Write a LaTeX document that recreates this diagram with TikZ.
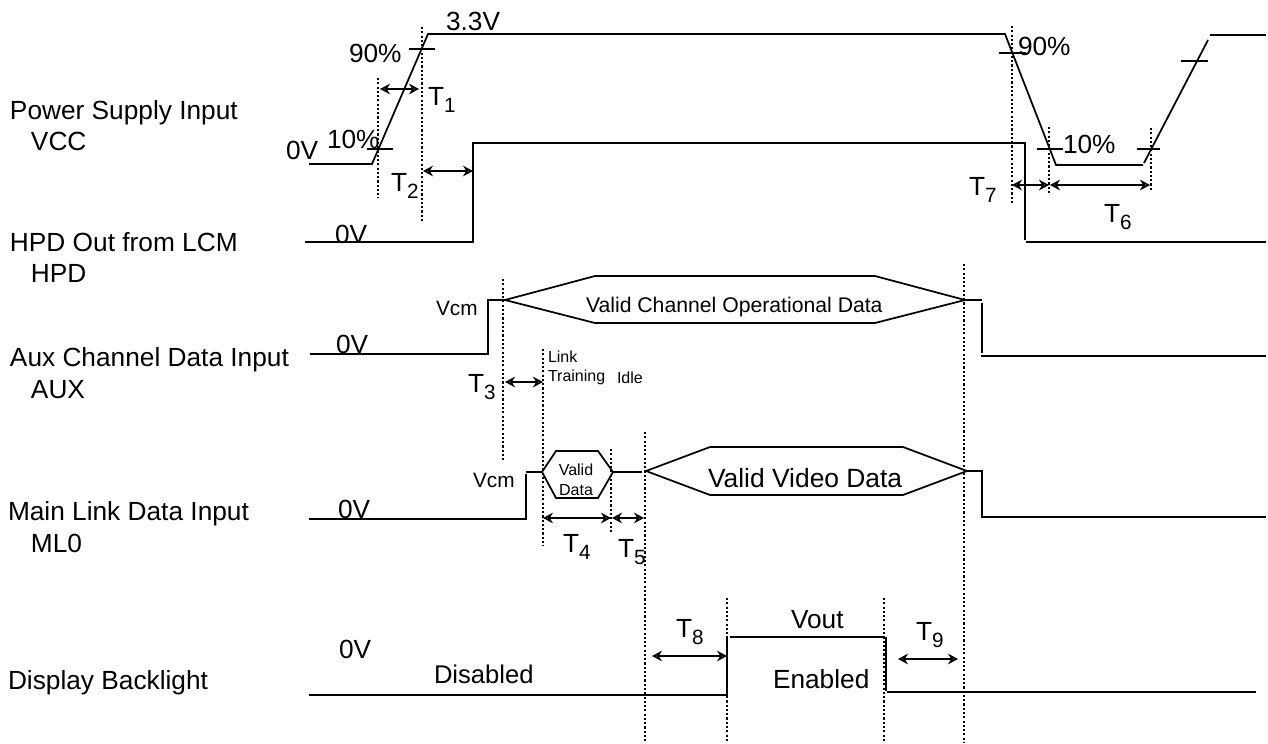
\documentclass[tikz,border=0pt]{standalone}
\usepackage{fontspec}
\setmainfont{Liberation Sans}
\usetikzlibrary{arrows.meta}
\newcommand{\fs}[1]{\fontsize{#1}{#1}\selectfont}
\newcommand{\Tsub}[1]{T\raisebox{-0.3em}{\fs{15.5}#1}}
\tikzset{
  wave/.style={line width=1.3pt,line cap=butt,line join=miter,black},
  tick/.style={line width=1pt,black},
  guide/.style={line width=0.8pt,black,dash pattern=on 1.6pt off 1.6pt},
  span/.style={line width=1.3pt,black,{Stealth[open,length=7.5pt,width=8pt]}-{Stealth[open,length=7.5pt,width=8pt]}},
  lab/.style={anchor=base west,inner sep=0pt,outer sep=0pt,font=\fs{19.7}},
  mid/.style={anchor=base west,inner sep=0pt,outer sep=0pt,font=\fs{17}},
  tiny/.style={anchor=base west,inner sep=0pt,outer sep=0pt,font=\fs{12}},
}
\begin{document}
\begin{tikzpicture}[x=0.75pt,y=-0.75pt]
\useasboundingbox (0,0) rectangle (1268,743);
% guides
\draw[guide] (378,78) -- (378,198);
\draw[guide] (422,27) -- (422,223);
\draw[guide] (1012,26) -- (1012,203);
\draw[guide] (1049,127) -- (1049,194);
\draw[guide] (1151,128) -- (1151,191);
\draw[guide] (503,279) -- (503,460);
\draw[guide] (543,349) -- (543,546);
\draw[guide] (611,449) -- (611,532);
\draw[guide] (645,432) -- (645,743);
\draw[guide] (964,264) -- (964,743);
\draw[guide] (727,598) -- (727,743);
\draw[guide] (884,598) -- (884,743);
% VCC
\draw[wave] (309,164) -- (372,164) -- (428,34) -- (1005,34) -- (1056,165) -- (1143,165);
\draw[wave] (1144,163) -- (1208,40);
\draw[wave] (1210,35) -- (1266,35);
\foreach \a/\b/\y in {409/435/49,367/393/149,999/1026/53,1037/1063/149,1137/1160/149,1181/1208/61}
  \draw[tick] (\a,\y) -- (\b,\y);
% HPD
\draw[wave] (305,242) -- (473,242) -- (473,143) -- (1025,143) -- (1025,240);
\draw[wave] (1026,242) -- (1266,242);
% AUX
\draw[wave] (310,354) -- (488,354) -- (488,300) -- (505,300) -- (595,276) -- (875,276) -- (965,300) -- (875,323) -- (595,323) -- (505,300);
\draw[wave] (965,300) -- (982,300);
\draw[wave] (982,303) -- (982,353);
\draw[wave] (981,356) -- (1266,356);
% ML0
\draw[wave] (309,519) -- (526,519) -- (526,474);
\draw[wave] (526,472) -- (542,472);
\draw[wave] (542,472) -- (556,451) -- (598,451) -- (613,472) -- (598,498) -- (556,498) -- cycle;
\draw[wave] (613,472) -- (642,472);
\draw[wave] (646,471) -- (710,447) -- (903,447) -- (967,471) -- (903,495) -- (710,495) -- cycle;
\draw[wave] (967,471) -- (982,471) -- (982,517) -- (1266,517);
% Backlight
\draw[wave] (309,695) -- (727,695) -- (727,637);
\draw[wave] (730,637) -- (885,637);
\draw[wave] (886,637) -- (886,691);
\draw[wave] (887,692) -- (1256,692);
% spans
\draw[span] (380,89) -- (419,89);
\draw[span] (423,171) -- (473,171);
\draw[span] (1012,185) -- (1049,185);
\draw[span] (1050,185) -- (1150,185);
\draw[span] (505,382) -- (543,382);
\draw[span] (543,518) -- (611,518);
\draw[span] (612,518) -- (644,518);
\draw[span] (652,656) -- (727,656);
\draw[span] (898,659) -- (958,659);
% left labels
\node[lab] (l1) at (10,119) {Power Supply Input};
\node[lab] (l2) at (31,150) {VCC};
\node[lab] (l3) at (10,251) {HPD Out from LCM};
\node[lab] (l4) at (31,282) {HPD};
\node[lab] (l5) at (10,366) {Aux Channel Data Input};
\node[lab] (l6) at (31,398) {AUX};
\node[lab] (l7) at (8,520) {Main Link Data Input};
\node[lab] (l8) at (31,552) {ML0};
\node[lab] (l9) at (8,689) {Display Backlight};
% levels
\node[lab] (v33) at (446,30) {3.3V};
\node[lab] (p90a) at (349,62) {90\%};
\node[lab] (p10a) at (327,148) {10\%};
\node[lab] (z1) at (286,159) {0V};
\node[lab] (z2) at (335,243) {0V};
\node[lab] (p90b) at (1018,55) {90\%};
\node[lab] (p10b) at (1063,153) {10\%};
\node[lab] (z3) at (336,353) {0V};
\node[lab] (z4) at (338,518) {0V};
\node[lab] (z5) at (339,658) {0V};
% timing labels
\node[lab] (t1) at (428,105) {\Tsub{1}};
\node[lab] (t2) at (391,191) {\Tsub{2}};
\node[lab] (t3) at (468,392) {\Tsub{3}};
\node[lab] (t4) at (563,552) {\Tsub{4}};
\node[lab] (t5) at (618,557) {\Tsub{5}};
\node[lab] (t6) at (1104,222) {\Tsub{6}};
\node[lab] (t7) at (969,195) {\Tsub{7}};
\node[lab] (t8) at (676,637) {\Tsub{8}};
\node[lab] (t9) at (916,640) {\Tsub{9}};
% others
\node[mid,font=\fs{15.6}] (vc1) at (436,315) {Vcm};
\node[mid,font=\fs{15.6}] (vc2) at (473,487) {Vcm};
\node[mid,font=\fs{15.9}] (ch) at (586,312) {Valid Channel Operational Data};
\node[lab,font=\fs{19.8}] (vv) at (708,487) {Valid Video Data};
\node[tiny] (lk) at (548,362) {Link};
\node[tiny] (tr) at (548,381) {Training};
\node[tiny] (idl) at (617,383) {Idle};
\node[tiny,anchor=base,font=\fs{12}] (vd1) at (576,475) {Valid};
\node[tiny,anchor=base,font=\fs{12}] (vd2) at (576,495) {Data};
\node[lab,font=\fs{19.2}] (dis) at (434,683) {Disabled};
\node[lab] (vout) at (791,628) {Vout};
\node[lab] (en) at (773,688) {Enabled};
\end{tikzpicture}
\end{document}
